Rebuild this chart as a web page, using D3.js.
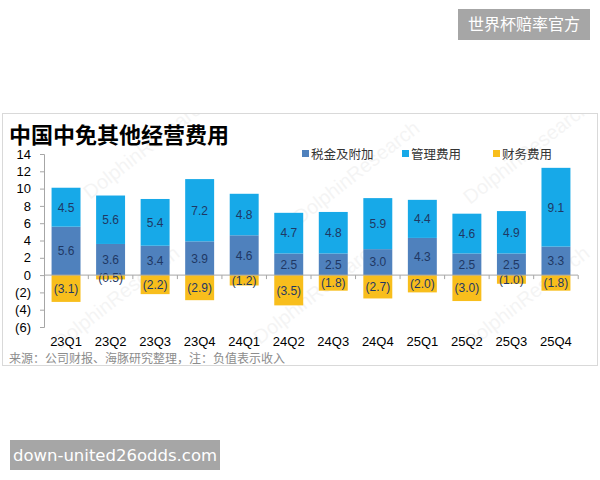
<!DOCTYPE html>
<html>
<head>
<meta charset="utf-8">
<script src="https://cdn.jsdelivr.net/npm/d3@7"></script>
<style>
  body { margin: 0; background: #fff; }
  text { font-family: "Liberation Sans", "Noto Sans CJK SC", sans-serif; }
  .cjk { font-family: "Noto Sans CJK SC", sans-serif; }
</style>
</head>
<body>
<div id="chart"></div>
<script>
const quarters = ["23Q1","23Q2","23Q3","23Q4","24Q1","24Q2","24Q3","24Q4","25Q1","25Q2","25Q3","25Q4"]
const taxes = [5.6, 3.6, 3.4, 3.9, 4.6, 2.5, 2.5, 3.0, 4.3, 2.5, 2.5, 3.3]
const admin = [4.5, 5.6, 5.4, 7.2, 4.8, 4.7, 4.8, 5.9, 4.4, 4.6, 4.9, 9.1]
const finance = [-3.1, -0.5, -2.2, -2.9, -1.2, -3.5, -1.8, -2.7, -2.0, -3.0, -1.0, -1.8]
const yTicks = [-6, -4, -2, 0, 2, 4, 6, 8, 10, 12, 14]
const seriesNames = ["税金及附加", "管理费用", "财务费用"]
const colors = ["#4F81BD", "#17A9E8", "#F8BE1C"]

const width = 600, height = 480

const svg = d3.select("#chart").append("svg")
    .attr("width", width)
    .attr("height", height)

svg.append("rect").attr("width", width).attr("height", height).attr("fill", "#fff")

// chart frame
svg.append("rect")
    .attr("x", 2.5).attr("y", 113.5)
    .attr("width", 595).attr("height", 252)
    .attr("fill", "none")
    .attr("stroke", "#d9d9d9")

svg.append("clipPath").attr("id", "frame-clip")
    .append("rect")
    .attr("x", 3).attr("y", 114)
    .attr("width", 594).attr("height", 251)

// faint DolphinResearch watermarks, kept inside the frame
const marks = [[90, 200], [300, 225], [470, 205], [60, 350], [260, 345], [470, 350]]
svg.append("g")
    .attr("clip-path", "url(#frame-clip)")
    .selectAll(".wm")
    .data(marks)
    .join("text")
        .attr("class", "wm")
        .attr("transform", d => `translate(${d[0]},${d[1]}) rotate(-38)`)
        .attr("font-size", 20)
        .attr("fill", "#000")
        .attr("opacity", 0.04)
        .text("DolphinResearch")

const x = d3.scaleBand()
    .domain(quarters)
    .range([44, 578])
    .paddingInner(0.35)
    .paddingOuter(0.17)

const y = d3.scaleLinear()
    .domain([-6, 14])
    .range([327, 154])

// build stacked rows
const rows = quarters.map((q, i) => ({
    q: q,
    segs: [
        { k: 0, y0: 0, y1: taxes[i], v: taxes[i] },
        { k: 1, y0: taxes[i], y1: taxes[i] + admin[i], v: admin[i] },
        { k: 2, y0: finance[i], y1: 0, v: finance[i] }
    ]
}))

const g = svg.selectAll(".bar-group")
    .data(rows)
    .join("g")
        .attr("class", "bar-group")
        .attr("transform", d => `translate(${x(d.q)},0)`)

g.selectAll("rect")
    .data(d => d.segs)
    .join("rect")
        .attr("x", 0)
        .attr("width", x.bandwidth())
        .attr("y", d => y(d.y1))
        .attr("height", d => y(d.y0) - y(d.y1))
        .attr("fill", d => colors[d.k])

const fmt = v => v < 0 ? "(" + d3.format(".1f")(-v) + ")" : d3.format(".1f")(v)

g.selectAll(".val")
    .data(d => d.segs)
    .join("text")
        .attr("class", "val")
        .attr("x", x.bandwidth() / 2)
        .attr("y", d => (y(d.y0) + y(d.y1)) / 2)
        .attr("dy", "0.36em")
        .attr("text-anchor", "middle")
        .attr("font-size", 12)
        .attr("fill", "#1F3864")
        .text(d => fmt(d.v))

// y axis
const yAxis = svg.append("g")
    .attr("transform", "translate(44,0)")
    .call(d3.axisLeft(y).tickValues(yTicks).tickSize(4).tickPadding(9)
        .tickFormat(d => d < 0 ? "(" + (-d) + ")" : d))
yAxis.select(".domain").attr("stroke", "#a6a6a6")
yAxis.selectAll(".tick line").attr("stroke", "#a6a6a6")
yAxis.selectAll(".tick text")
    .attr("font-size", 13)
    .attr("fill", "#000")
    .style("font-family", "Liberation Sans, sans-serif")

// x axis at zero, ticks between categories
svg.append("line")
    .attr("x1", 44).attr("x2", 578)
    .attr("y1", y(0)).attr("y2", y(0))
    .attr("stroke", "#a6a6a6")
svg.selectAll(".xtick")
    .data(quarters)
    .join("line")
        .attr("class", "xtick")
        .attr("x1", d => x(d) + x.bandwidth() + x.step() * x.paddingInner() / 2)
        .attr("x2", d => x(d) + x.bandwidth() + x.step() * x.paddingInner() / 2)
        .attr("y1", y(0)).attr("y2", y(0) + 4)
        .attr("stroke", "#a6a6a6")

svg.selectAll(".xlabel")
    .data(quarters)
    .join("text")
        .attr("class", "xlabel")
        .attr("x", d => x(d) + x.bandwidth() / 2)
        .attr("y", 346)
        .attr("text-anchor", "middle")
        .attr("font-size", 13)
        .attr("fill", "#000")
        .text(d => d)

// title
svg.append("text")
    .attr("class", "cjk")
    .attr("x", 9).attr("y", 143)
    .attr("font-size", 22)
    .attr("font-weight", "bold")
    .attr("fill", "#000")
    .text("中国中免其他经营费用")

// legend
const legendX = [302, 402, 493]
const legend = svg.selectAll(".legend")
    .data(seriesNames)
    .join("g")
        .attr("class", "legend")
        .attr("transform", (d, i) => `translate(${legendX[i]},150)`)
legend.append("rect")
    .attr("width", 7).attr("height", 7)
    .attr("fill", (d, i) => colors[i])
legend.append("text")
    .attr("class", "cjk")
    .attr("x", 9).attr("y", 8.5)
    .attr("font-size", 12.5)
    .attr("fill", "#333")
    .text(d => d)

// source
svg.append("text")
    .attr("class", "cjk")
    .attr("x", 9).attr("y", 363)
    .attr("font-size", 12)
    .attr("fill", "#8c8c8c")
    .text("来源：公司财报、海豚研究整理，注：负值表示收入")

// overlay badges
svg.append("rect")
    .attr("x", 458).attr("y", 9)
    .attr("width", 132).attr("height", 31)
    .attr("fill", "#a6a6a6")
svg.append("text")
    .attr("class", "cjk")
    .attr("x", 524).attr("y", 30)
    .attr("text-anchor", "middle")
    .attr("font-size", 16)
    .attr("fill", "#fff")
    .text("世界杯赔率官方")

svg.append("rect")
    .attr("x", 10).attr("y", 440)
    .attr("width", 210).attr("height", 30)
    .attr("fill", "#a6a6a6")
svg.append("text")
    .attr("x", 115).attr("y", 461)
    .attr("text-anchor", "middle")
    .attr("font-size", 16.5)
    .attr("fill", "#fff")
    .style("font-family", "DejaVu Sans, sans-serif")
    .text("down-united26odds.com")
</script>
</body>
</html>
